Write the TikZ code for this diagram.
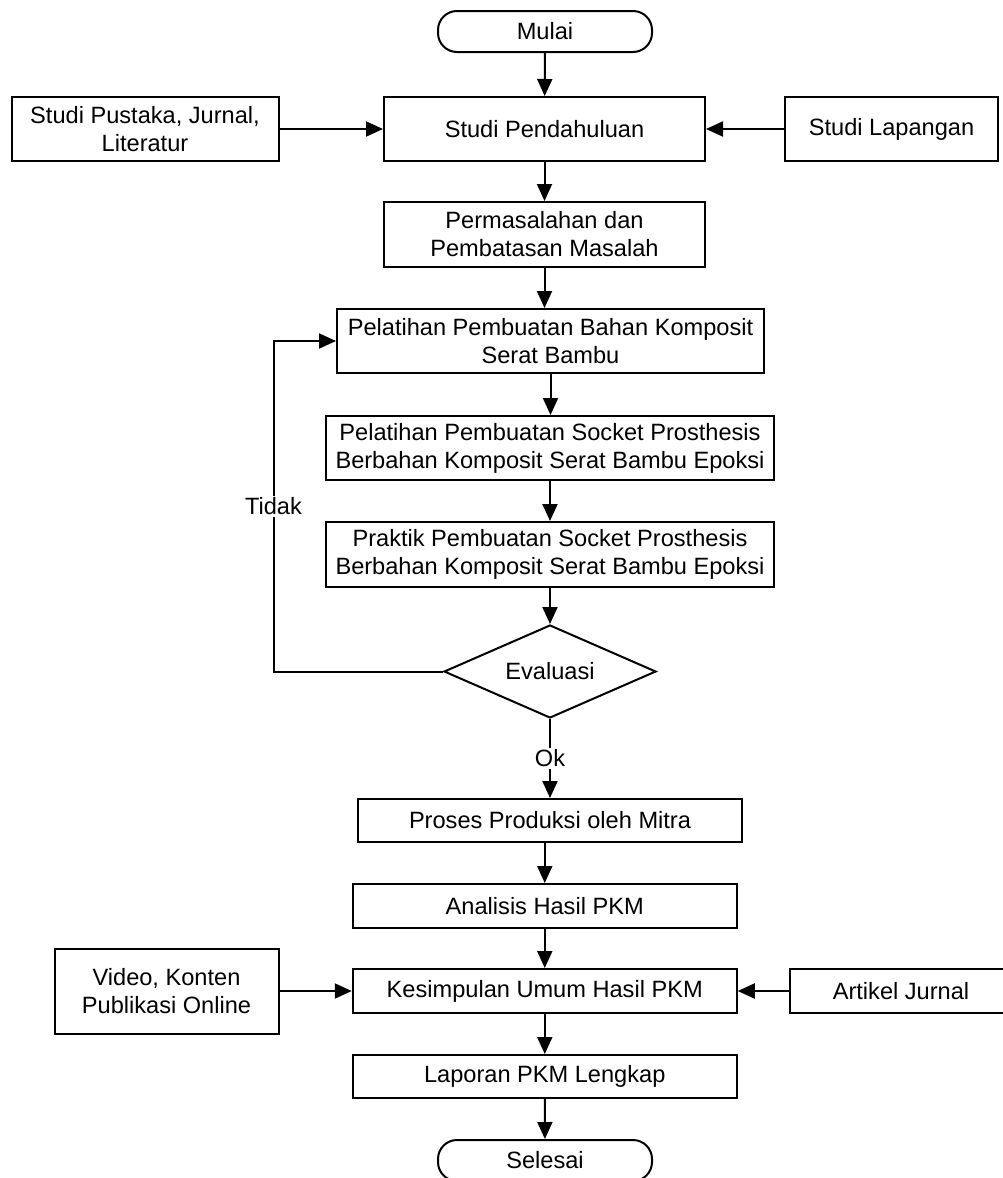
\documentclass[tikz,border=0pt]{standalone}
\usepackage{fontspec}
\setmainfont{Liberation Sans}
\usetikzlibrary{arrows.meta,shapes.geometric}

\begin{document}
\begin{tikzpicture}[
  x=1pt,y=-1pt,
  proc/.style={draw,rectangle,line width=2pt,inner sep=0pt,align=center,
               font=\fontsize{23.6}{28}\selectfont},
  term/.style={proc,rounded corners=19pt,minimum width=214pt,minimum height=41pt},
  dec/.style={draw,diamond,line width=2pt,inner sep=0pt,aspect=2.3,
              minimum width=212pt,minimum height=93pt,font=\fontsize{23.6}{28}\selectfont},
  lbl/.style={fill=white,inner sep=2pt,font=\fontsize{23.6}{28}\selectfont},
  arr/.style={-{Triangle[length=17pt,width=15pt]},line width=2pt}
]
\useasboundingbox (0,0) rectangle (1002,1178);

% Start and first study
\node[term] (mulai) at (545,31.5) {Mulai};
\node[proc,minimum width=321pt,minimum height=64pt] (pend) at (544.5,129) {Studi Pendahuluan};
\node[proc,minimum width=267pt,minimum height=64pt] (pustaka) at (145,129) {Studi Pustaka, Jurnal,\\Literatur};
\node[proc,minimum width=213pt,minimum height=64pt] (lapangan) at (891.5,129) {Studi Lapangan};
\node[proc,minimum width=321pt,minimum height=65pt] (masalah) at (544.5,234.5) {Permasalahan dan\\Pembatasan Masalah};

% Training steps
\node[proc,minimum width=427pt,minimum height=64pt] (bahan) at (550.5,341) {Pelatihan Pembuatan Bahan Komposit\\Serat Bambu};
\node[proc,minimum width=447.5pt,minimum height=64pt] (socket) at (550,448) {Pelatihan Pembuatan Socket Prosthesis\\Berbahan Komposit Serat Bambu Epoksi};
\node[proc,minimum width=447.5pt,minimum height=65pt] (praktik) at (550,554.5) {Praktik Pembuatan Socket Prosthesis\\Berbahan Komposit Serat Bambu Epoksi};
\node[dec] (eval) at (550,671.5) {Evaluasi};
\coordinate (ret) at (273.5,671.5);

% Production and reporting
\node[proc,minimum width=384pt,minimum height=43pt] (proses) at (550,820.5) {Proses Produksi oleh Mitra};
\node[proc,minimum width=384pt,minimum height=44pt] (analisis) at (544.75,906) {Analisis Hasil PKM};
\node[proc,minimum width=384pt,minimum height=44pt] (kesimpulan) at (544.75,991) {Kesimpulan Umum Hasil PKM};
\node[proc,minimum width=224pt,minimum height=85pt] (video) at (166.5,991.4) {Video, Konten\\Publikasi Online};
\node[proc,minimum width=222pt,minimum height=44pt] (artikel) at (901,991) {Artikel Jurnal};
\node[proc,minimum width=384pt,minimum height=43pt] (laporan) at (544.75,1076.5) {Laporan PKM Lengkap};
\node[term] (selesai) at (545,1160.5) {Selesai};

% Main flow
\draw[arr] (mulai) -- (pend);
\draw[arr] (pustaka) -- (pend);
\draw[arr] (lapangan) -- (pend);
\draw[arr] (pend) -- (masalah);
\draw[arr] (masalah.south) -- (masalah.south |- bahan.north);
\draw[arr] (bahan.south) -- (bahan.south |- socket.north);
\draw[arr] (socket) -- (praktik);
\draw[arr] (praktik) -- (eval);
\draw[arr] (eval) -- (proses) node[midway,lbl] {Ok};
\draw[arr] (eval.west) -- (ret) |- (bahan.west) node[pos=0.25,lbl] {Tidak};
\draw[arr] (analisis.north |- proses.south) -- (analisis.north);
\draw[arr] (analisis) -- (kesimpulan);
\draw[arr] (video.east |- kesimpulan) -- (kesimpulan.west);
\draw[arr] (artikel) -- (kesimpulan);
\draw[arr] (kesimpulan) -- (laporan);
\draw[arr] (laporan) -- (selesai);

\end{tikzpicture}
\end{document}
